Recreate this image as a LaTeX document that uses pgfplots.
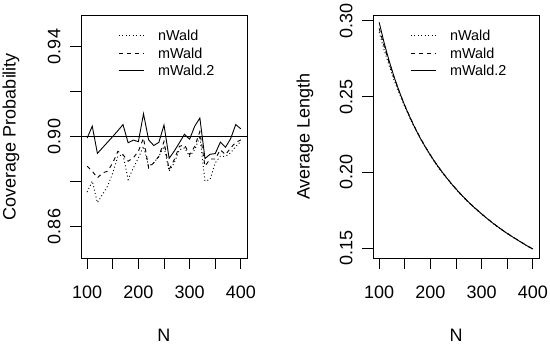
\documentclass[border=0pt]{standalone}
\usepackage{pgfplots}
\pgfplotsset{compat=1.18}
\usepackage{pgfplotstable}
\usepackage{fontspec}
\setmainfont{Liberation Sans}

\pgfplotstableread{
N nWald mWald mWaldB
100 0.8753 0.8868 0.8993
110 0.8802 0.8846 0.9046
120 0.8706 0.8816 0.8925
130 0.8743 0.8838 0.8950
140 0.8780 0.8846 0.8975
150 0.8838 0.8883 0.9000
160 0.8912 0.8934 0.9026
170 0.8919 0.8919 0.9053
180 0.8809 0.8890 0.8972
190 0.8860 0.8905 0.8984
200 0.8905 0.8934 0.8977
210 0.8956 0.8993 0.9101
220 0.8868 0.8860 0.8985
230 0.8883 0.8883 0.8960
240 0.8912 0.8912 0.8974
250 0.8956 0.8978 0.9051
260 0.8846 0.8853 0.8903
270 0.8883 0.8897 0.8935
280 0.8941 0.8956 0.8972
290 0.8949 0.8963 0.9010
300 0.8912 0.8919 0.8988
310 0.8941 0.8956 0.9046
320 0.9000 0.9022 0.9082
330 0.8802 0.8868 0.8902
340 0.8809 0.8900 0.8921
350 0.8883 0.8900 0.8924
360 0.8912 0.8941 0.8975
370 0.8912 0.8919 0.8952
380 0.8927 0.8949 0.8990
390 0.8956 0.8974 0.9053
400 0.8978 0.8985 0.9034
}\cov

\pgfplotstableread{
N nWald mWald mWaldB
100 0.2925 0.2950 0.2990
110 0.2805 0.2830 0.2851
120 0.2700 0.2720 0.2730
130 0.2600 0.2618 0.2622
140 0.2515 0.2526 0.2527
150 0.2434 0.2442 0.2441
160 0.2358 0.2366 0.2364
170 0.2290 0.2295 0.2293
180 0.2224 0.2230 0.2228
190 0.2166 0.2170 0.2169
200 0.2111 0.2116 0.2114
210 0.2060 0.2064 0.2063
220 0.2013 0.2017 0.2016
230 0.1969 0.1972 0.1972
240 0.1928 0.1931 0.1930
250 0.1889 0.1892 0.1891
260 0.1852 0.1855 0.1854
270 0.1817 0.1820 0.1819
280 0.1785 0.1787 0.1787
290 0.1754 0.1757 0.1756
300 0.1725 0.1727 0.1727
310 0.1696 0.1699 0.1698
320 0.1670 0.1672 0.1671
330 0.1644 0.1646 0.1646
340 0.1620 0.1622 0.1621
350 0.1597 0.1599 0.1598
360 0.1575 0.1577 0.1576
370 0.1554 0.1556 0.1555
380 0.1533 0.1535 0.1534
390 0.1513 0.1515 0.1514
400 0.1494 0.1495 0.1495
}\alen

\pgfplotsset{
  rstyle/.style={
    width=166pt, height=243pt, scale only axis,
    axis line style={line width=0.9pt},
    xmin=88, xmax=412,
    xtick={100,150,...,400},
    xticklabels={100,,200,,300,,400},
    tick align=outside,
    major tick length=11pt,
    every tick/.style={black, line width=0.9pt},
    xtick pos=bottom, ytick pos=left,
    /pgf/number format/assume math mode=true,
    tick label style={font=\fontsize{18}{20}\selectfont},
    xticklabel style={yshift=-13pt},
    yticklabel style={xshift=-6pt, rotate=90, anchor=south},
    label style={font=\fontsize{18}{20}\selectfont},
    xlabel={N},
    xlabel style={at={(axis description cs:0.5,-0.317)}, anchor=center},
    legend cell align=left,
    legend style={at={(0.223,0.951)}, anchor=north west, draw=none, fill=none,
      inner sep=0pt, font=\fontsize{14.4}{17}\selectfont,
      nodes={inner sep=0pt, text height=13.5pt, text depth=4pt},
      row sep=0pt,
      /tikz/every odd column/.append style={column sep=14pt}},
    legend image code/.code={\draw[##1] (0pt,0pt) -- (25pt,0pt);},
  },
  dotl/.style={black, line width=0.9pt, dash pattern=on 1pt off 2.5pt},
  dashl/.style={black, line width=0.9pt, dash pattern=on 4pt off 4pt},
  solidl/.style={black, line width=0.9pt},
}

\begin{document}
\begin{tikzpicture}
\useasboundingbox (0,0) rectangle (550pt,346pt);
\begin{axis}[rstyle, at={(81pt,88pt)}, anchor=south west,
  ymin=0.846, ymax=0.954,
  ytick={0.86,0.88,0.90,0.92,0.94},
  yticklabels={0.86,,0.90,,0.94},
  ylabel={Coverage Probability},
  ylabel style={at={(axis description cs:-0.4217,0.5)}, anchor=center, rotate=0},
]
\addplot[dotl] table[x=N, y=nWald] {\cov};
\addlegendentry{nWald}
\addplot[dashl] table[x=N, y=mWald] {\cov};
\addlegendentry{mWald}
\addplot[solidl] table[x=N, y=mWaldB] {\cov};
\addlegendentry{mWald.2}
\addplot[solidl, forget plot] coordinates {(88,0.90) (412,0.90)};
\end{axis}
\begin{axis}[rstyle, at={(373pt,88pt)}, anchor=south west,
  ymin=0.1436, ymax=0.3038,
  ytick={0.15,0.20,0.25,0.30},
  yticklabels={0.15,0.20,0.25,0.30},
  ylabel={Average Length},
  ylabel style={at={(axis description cs:-0.41,0.5)}, anchor=center},
]
\addplot[dotl] table[x=N, y=nWald] {\alen};
\addlegendentry{nWald}
\addplot[dashl] table[x=N, y=mWald] {\alen};
\addlegendentry{mWald}
\addplot[solidl] table[x=N, y=mWaldB] {\alen};
\addlegendentry{mWald.2}
\end{axis}
\end{tikzpicture}
\end{document}
